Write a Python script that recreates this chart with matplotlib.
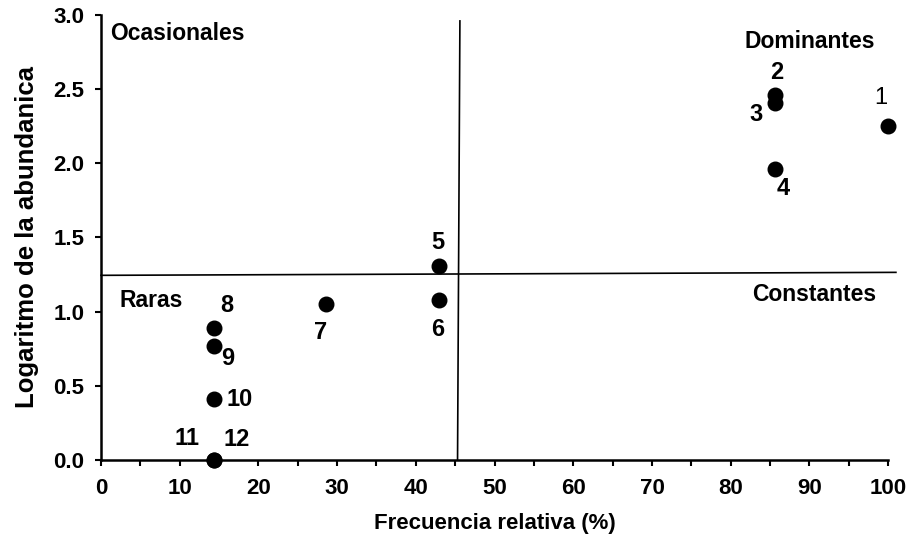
import matplotlib
matplotlib.use("Agg")
import matplotlib.pyplot as plt
from matplotlib.ticker import MultipleLocator, FormatStrFormatter

plt.rcParams['font.family'] = ['Liberation Sans', 'DejaVu Sans']

labels = ['1', '2', '3', '4', '5', '6', '7', '8', '9', '10', '11', '12']
freq = [100, 85.7, 85.7, 85.7, 42.9, 42.9, 28.6, 14.3, 14.3, 14.3, 14.3, 14.3]
logab = [2.25, 2.46, 2.41, 1.96, 1.31, 1.08, 1.05, 0.89, 0.77, 0.41, 0.0, 0.0]
label_offsets = [(-7, 28), (1, 23), (-19, -12), (8, -19), (-1, 23), (-1, -30),
                 (-6, -28), (13, 22), (14, -13), (26, 0), (-27, 22), (23, 21)]
label_weights = ['normal'] + ['bold'] * 11

h_line_x = [0, 101]
h_line_y = [1.245, 1.265]
v_line_x = [45.3, 45.6]
v_line_y = [0, 2.96]

quadrants = ['Ocasionales', 'Dominantes', 'Raras', 'Constantes']

fig = plt.figure(figsize=(9.11, 5.41), dpi=100)
ax = fig.add_axes([0.1109, 0.1497, 0.8639, 0.8226])

ax.plot(h_line_x, h_line_y, color='black', lw=1.2, clip_on=False, zorder=2)
ax.plot(v_line_x, v_line_y, color='black', lw=1.2, clip_on=False, zorder=2)
ax.scatter(freq, logab, s=110, color='black', zorder=3, clip_on=False)

for lab, x, y, off, w in zip(labels, freq, logab, label_offsets, label_weights):
    ax.annotate(lab, (x, y), xytext=off, textcoords='offset pixels',
                ha='center', va='center', fontsize=17, fontweight=w)

ax.text(1.2, 2.832, quadrants[0], fontsize=16.5, fontweight='bold', ha='left', va='baseline')
ax.text(98.3, 2.778, quadrants[1], fontsize=16.5, fontweight='bold', ha='right', va='baseline')
ax.text(2.3, 1.032, quadrants[2], fontsize=16.5, fontweight='bold', ha='left', va='baseline')
ax.text(98.5, 1.072, quadrants[3], fontsize=16.5, fontweight='bold', ha='right', va='baseline')

ax.set_xlim(0, 100)
ax.set_ylim(0, 3.0)
ax.xaxis.set_major_locator(MultipleLocator(10))
ax.xaxis.set_minor_locator(MultipleLocator(5))
ax.yaxis.set_major_locator(MultipleLocator(0.5))
ax.yaxis.set_major_formatter(FormatStrFormatter('%.1f'))

for s in ['top', 'right']:
    ax.spines[s].set_visible(False)
for s in ['left', 'bottom']:
    ax.spines[s].set_linewidth(1.8)

ax.tick_params(axis='both', which='both', direction='out', length=4, width=1.5)
for t in ax.get_xticklabels() + ax.get_yticklabels():
    t.set_fontweight('bold')
    t.set_fontsize(16)
ax.tick_params(axis='x', pad=9)
ax.tick_params(axis='y', pad=8)

ax.set_xlabel('Frecuencia relativa (%)', fontsize=16, fontweight='bold', labelpad=10)
ax.set_ylabel('Logaritmo de la abundanica', fontsize=18.5, fontweight='bold', labelpad=10)

fig.savefig('out.png', dpi=100)
